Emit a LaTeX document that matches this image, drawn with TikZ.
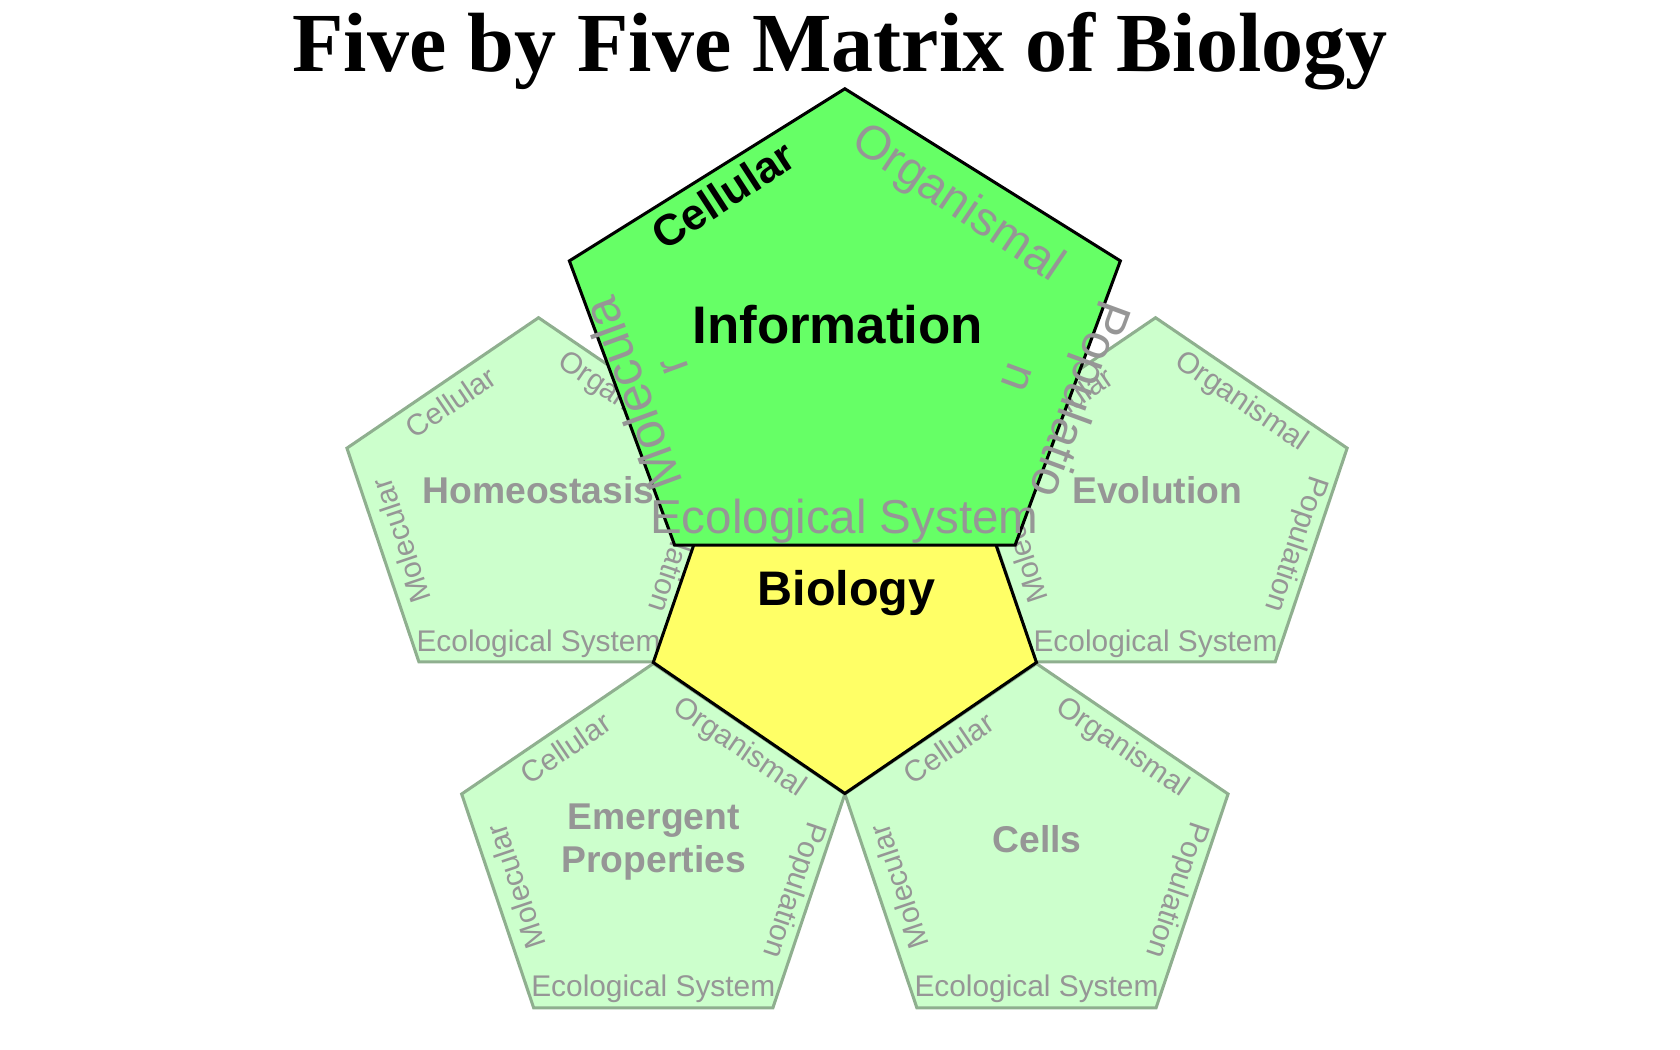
\documentclass[tikz,border=0pt]{standalone}
\usepackage{fontspec}
\setmainfont{Liberation Serif}
\newfontfamily\arialf{Liberation Sans}
\definecolor{pgrey}{RGB}{150,150,150}
\definecolor{pfill}{RGB}{204,255,204}
\definecolor{pline}{RGB}{143,175,143}
\definecolor{infofill}{RGB}{102,255,102}
\definecolor{biofill}{RGB}{255,255,102}
\tikzset{
 smallpent/.style={fill=pfill, draw=pline, line width=1.6pt, line join=miter},
 bigpent/.style={draw=black, line width=1.6pt, line join=miter},
 edgelab/.style={text=pgrey, font=\arialf\fontsize{15.7}{18}\selectfont, inner sep=0pt},
 mainlab/.style={text=pgrey, font=\arialf\bfseries\fontsize{19.6}{24}\selectfont, inner sep=0pt},
 bigedge/.style={text=pgrey, font=\arialf\fontsize{25}{30}\selectfont, inner sep=0pt},
 bigedgebold/.style={text=black, font=\arialf\bfseries\fontsize{23}{28}\selectfont, inner sep=0pt},
 biglab/.style={text=black, font=\arialf\bfseries\fontsize{27.8}{33}\selectfont, inner sep=0pt},
}
\newcommand{\smallpentagon}[3]{%
 \begin{scope}[shift={(#2,#3)}]
  \draw[smallpent] (0,0) -- (177,120.5) -- (110.5,318) -- (-110.5,318) -- (-177,120.5) -- cycle;
  \node[edgelab, rotate=34.2] (#1cel) at (-81,78) {Cellular};
  \node[edgelab, rotate=-34.2] (#1org) at (79,78) {Organismal};
  \node[edgelab, rotate=-108.6] (#1pop) at (129,209) {Population};
  \node[edgelab, rotate=108.6] (#1mol) at (-127,206) {Molecular};
  \node[edgelab, anchor=base] (#1eco) at (0,308) {Ecological System};
 \end{scope}}
\begin{document}
\begin{tikzpicture}[x=0.02cm, y=-0.02cm]
\useasboundingbox (0,0) rectangle (1552,970);
% title
\node[anchor=base, font=\bfseries\fontsize{44.2}{50}\selectfont, inner sep=0pt] (title) at (776,66) {Five by Five Matrix of Biology};
% small pentagons
\smallpentagon{hom}{497.5}{293.5}
\node[mainlab, anchor=base] (homlab) at (497.5,465) {Homeostasis};
\smallpentagon{evo}{1067.5}{293.5}
\node[mainlab, anchor=base] (evolab) at (1069,465) {Evolution};
\smallpentagon{eme}{603.5}{613}
\node[mainlab, anchor=base] (emelab1) at (604,766.5) {Emergent};
\node[mainlab, anchor=base] (emelab2) at (604,806) {Properties};
\smallpentagon{cel}{957.5}{613}
\node[mainlab, anchor=base] (cellab) at (958,787.5) {Cells};
% central yellow pentagon
\draw[bigpent, fill=biofill] (671,416) -- (890,416) -- (957.5,612) -- (780.5,733) -- (603.5,612) -- cycle;
\node[biglab, anchor=base, font=\arialf\bfseries\fontsize{25.5}{30}\selectfont] (bio) at (782,559) {Biology};
% big green pentagon
\draw[bigpent, fill=infofill] (780.5,82) -- (1035,241) -- (937.8,503.5) -- (623.2,503.5) -- (526,241) -- cycle;
\node[biglab, anchor=base] (info) at (774,317.5) {Information};
\node[bigedgebold, rotate=33] (gcel) at (668,180) {Cellular};
\node[bigedge, rotate=-34] (gorg) at (884,189) {Organismal};
\node[bigedge, font=\arialf\fontsize{26}{30}\selectfont, rotate=-110.2] (gpop) at (994.5,368) {Populatio};
\node[bigedge, rotate=-110.2] (gn) at (939,349) {n};
\node[bigedge, font=\arialf\fontsize{26.5}{30}\selectfont, rotate=110.2] (gmol) at (583.5,364.5) {Molecula};
\node[bigedge, rotate=110.2] (gr) at (623,338) {r};
\node[bigedge, anchor=base] (geco) at (780,493) {Ecological System};
\end{tikzpicture}
\end{document}
